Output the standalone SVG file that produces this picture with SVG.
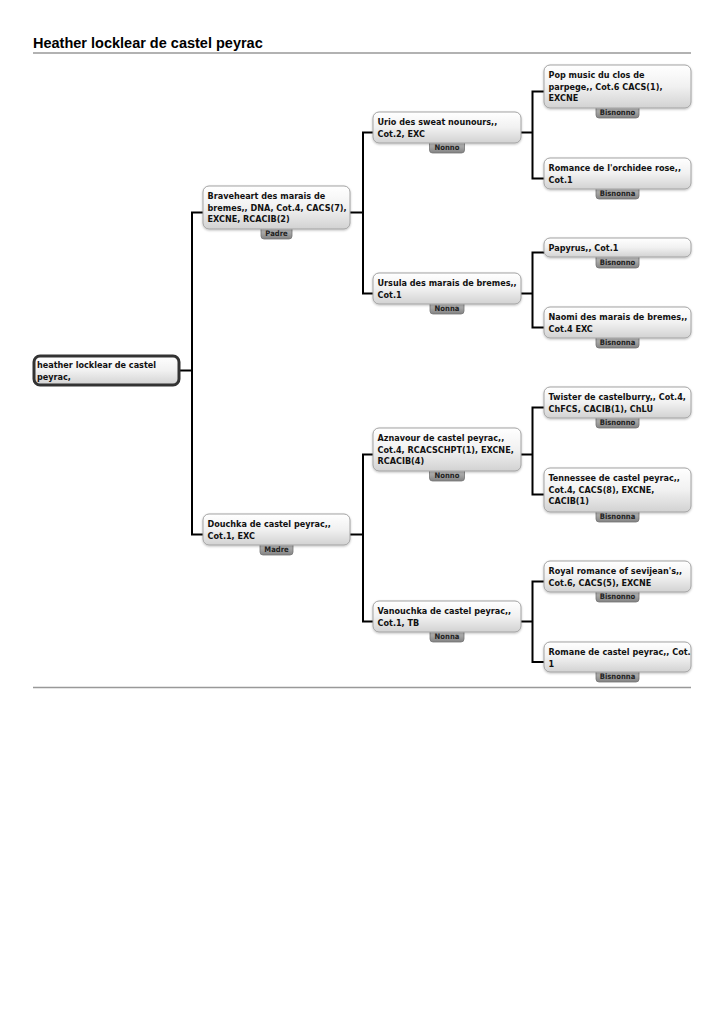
<svg xmlns="http://www.w3.org/2000/svg" width="724" height="1024" viewBox="0 0 724 1024">
<defs>
<linearGradient id="gNode" x1="0" y1="0" x2="0" y2="1">
<stop offset="0" stop-color="#ffffff"/>
<stop offset="0.5" stop-color="#f1f1f1"/>
<stop offset="1" stop-color="#d2d2d2"/>
</linearGradient>
<linearGradient id="gTag" x1="0" y1="0" x2="0" y2="1">
<stop offset="0" stop-color="#d4d4d4"/>
<stop offset="1" stop-color="#828282"/>
</linearGradient>
<filter id="sh" x="-10%" y="-20%" width="120%" height="150%">
<feDropShadow dx="0" dy="1" stdDeviation="0.8" flood-color="#000" flood-opacity="0.25"/>
</filter>
</defs>
<style>
.title{font-family:"Liberation Sans",Arial,sans-serif;font-weight:bold;font-size:14.5px;fill:#000}
.rule{stroke:#999;stroke-width:1.3;fill:none}
.node{fill:url(#gNode);stroke:#a3a3a3;stroke-width:1;filter:url(#sh)}
.root{fill:url(#gNode);stroke:#333;stroke-width:3}
.tag{fill:url(#gTag);stroke:#737373;stroke-width:0.8}
.t{font-family:"DejaVu Sans Condensed","DejaVu Sans",sans-serif;font-stretch:condensed;font-weight:bold;font-size:9px;fill:#111}
.tt{font-family:"DejaVu Sans Condensed","DejaVu Sans",sans-serif;font-stretch:condensed;font-weight:bold;font-size:7.6px;fill:#222;text-anchor:middle}
.conn{stroke:#000;stroke-width:2;fill:none;stroke-linejoin:miter}
</style>
<rect width="724" height="1024" fill="#fff"/>
<text class="title" x="33" y="48">Heather locklear de castel peyrac</text>
<line class="rule" x1="33" y1="53" x2="691" y2="53"/>
<line class="rule" x1="33" y1="687.5" x2="691" y2="687.5"/>

<g id="connectors">
<path class="conn" d="M180 370.5 H192"/>
<path class="conn" d="M203 212.5 H192 V534.5 H203"/>
<path class="conn" d="M350 212.5 H363"/>
<path class="conn" d="M373 132.5 H363 V293.5 H373"/>
<path class="conn" d="M350 534.5 H363"/>
<path class="conn" d="M373 454.5 H363 V621.5 H373"/>
<path class="conn" d="M521 132.5 H532.5"/>
<path class="conn" d="M544 91.5 H532.5 V178.5 H544"/>
<path class="conn" d="M521 293.5 H532.5"/>
<path class="conn" d="M544 252.5 H532.5 V327.5 H544"/>
<path class="conn" d="M521 454.5 H532.5"/>
<path class="conn" d="M544 407.5 H532.5 V494.5 H544"/>
<path class="conn" d="M521 621.5 H532.5"/>
<path class="conn" d="M544 581.5 H532.5 V662 H544"/>
</g>

<g id="root">
<rect class="root" x="34" y="356" width="145" height="29" rx="6"/>
<text class="t" x="37" y="368">heather locklear de castel</text>
<text class="t" x="37" y="379.5">peyrac,</text>
</g>

<g id="braveheart">
<rect class="tag" x="261" y="225" width="31" height="14" rx="3"/>
<text class="tt" x="276.5" y="236">Padre</text>
<rect class="node" x="203" y="186" width="147" height="43" rx="6"/>
<text class="t" x="207.5" y="199">Braveheart des marais de</text>
<text class="t" x="207.5" y="210.5">bremes,, DNA, Cot.4, CACS(7),</text>
<text class="t" x="207.5" y="222">EXCNE, RCACIB(2)</text>
</g>

<g id="douchka">
<rect class="tag" x="260" y="541" width="33" height="14" rx="3"/>
<text class="tt" x="276.5" y="552">Madre</text>
<rect class="node" x="203" y="514" width="147" height="31" rx="6"/>
<text class="t" x="207.5" y="527">Douchka de castel peyrac,,</text>
<text class="t" x="207.5" y="538.5">Cot.1, EXC</text>
</g>

<g id="urio">
<rect class="tag" x="429.5" y="139" width="35" height="14" rx="3"/>
<text class="tt" x="447" y="150">Nonno</text>
<rect class="node" x="373" y="112" width="148" height="31" rx="6"/>
<text class="t" x="377.5" y="125">Urio des sweat nounours,,</text>
<text class="t" x="377.5" y="136.5">Cot.2, EXC</text>
</g>

<g id="ursula">
<rect class="tag" x="430" y="300" width="34" height="14" rx="3"/>
<text class="tt" x="447" y="311">Nonna</text>
<rect class="node" x="373" y="273" width="148" height="31" rx="6"/>
<text class="t" x="377.5" y="286">Ursula des marais de bremes,,</text>
<text class="t" x="377.5" y="297.5">Cot.1</text>
</g>

<g id="aznavour">
<rect class="tag" x="429.5" y="467" width="35" height="14" rx="3"/>
<text class="tt" x="447" y="478">Nonno</text>
<rect class="node" x="373" y="428" width="148" height="43" rx="6"/>
<text class="t" x="377.5" y="441">Aznavour de castel peyrac,,</text>
<text class="t" x="377.5" y="452.5">Cot.4, RCACSCHPT(1), EXCNE,</text>
<text class="t" x="377.5" y="464">RCACIB(4)</text>
</g>

<g id="vanouchka">
<rect class="tag" x="430" y="628" width="34" height="14" rx="3"/>
<text class="tt" x="447" y="639">Nonna</text>
<rect class="node" x="373" y="601" width="148" height="31" rx="6"/>
<text class="t" x="377.5" y="614">Vanouchka de castel peyrac,,</text>
<text class="t" x="377.5" y="625.5">Cot.1, TB</text>
</g>

<g id="popmusic">
<rect class="tag" x="596" y="104" width="43" height="14" rx="3"/>
<text class="tt" x="617.5" y="115">Bisnonno</text>
<rect class="node" x="544" y="65" width="147" height="43" rx="6"/>
<text class="t" x="548.5" y="78">Pop music du clos de</text>
<text class="t" x="548.5" y="89.5">parpege,, Cot.6 CACS(1),</text>
<text class="t" x="548.5" y="101">EXCNE</text>
</g>

<g id="romance">
<rect class="tag" x="596" y="185" width="43" height="14" rx="3"/>
<text class="tt" x="617.5" y="196">Bisnonna</text>
<rect class="node" x="544" y="158" width="147" height="31" rx="6"/>
<text class="t" x="548.5" y="171">Romance de l'orchidee rose,,</text>
<text class="t" x="548.5" y="182.5">Cot.1</text>
</g>

<g id="papyrus">
<rect class="tag" x="596" y="254" width="43" height="14" rx="3"/>
<text class="tt" x="617.5" y="265">Bisnonno</text>
<rect class="node" x="544" y="238" width="147" height="19" rx="6"/>
<text class="t" x="548.5" y="251">Papyrus,, Cot.1</text>
</g>

<g id="naomi">
<rect class="tag" x="596" y="334" width="43" height="14" rx="3"/>
<text class="tt" x="617.5" y="345">Bisnonna</text>
<rect class="node" x="544" y="307" width="147" height="31" rx="6"/>
<text class="t" x="548.5" y="320">Naomi des marais de bremes,,</text>
<text class="t" x="548.5" y="331.5">Cot.4 EXC</text>
</g>

<g id="twister">
<rect class="tag" x="596" y="414" width="43" height="14" rx="3"/>
<text class="tt" x="617.5" y="425">Bisnonno</text>
<rect class="node" x="544" y="387" width="147" height="31" rx="6"/>
<text class="t" x="548.5" y="400">Twister de castelburry,, Cot.4,</text>
<text class="t" x="548.5" y="411.5">ChFCS, CACIB(1), ChLU</text>
</g>

<g id="tennessee">
<rect class="tag" x="596" y="508" width="43" height="14" rx="3"/>
<text class="tt" x="617.5" y="519">Bisnonna</text>
<rect class="node" x="544" y="468" width="147" height="44" rx="6"/>
<text class="t" x="548.5" y="481">Tennessee de castel peyrac,,</text>
<text class="t" x="548.5" y="492.5">Cot.4, CACS(8), EXCNE,</text>
<text class="t" x="548.5" y="504">CACIB(1)</text>
</g>

<g id="royal">
<rect class="tag" x="596" y="588" width="43" height="14" rx="3"/>
<text class="tt" x="617.5" y="599">Bisnonno</text>
<rect class="node" x="544" y="561" width="147" height="31" rx="6"/>
<text class="t" x="548.5" y="574">Royal romance of sevijean's,,</text>
<text class="t" x="548.5" y="585.5">Cot.6, CACS(5), EXCNE</text>
</g>

<g id="romane">
<rect class="tag" x="596" y="668" width="43" height="14" rx="3"/>
<text class="tt" x="617.5" y="679">Bisnonna</text>
<rect class="node" x="544" y="642" width="147" height="30" rx="6"/>
<text class="t" x="548.5" y="655">Romane de castel peyrac,, Cot.</text>
<text class="t" x="548.5" y="666.5">1</text>
</g>
</svg>
